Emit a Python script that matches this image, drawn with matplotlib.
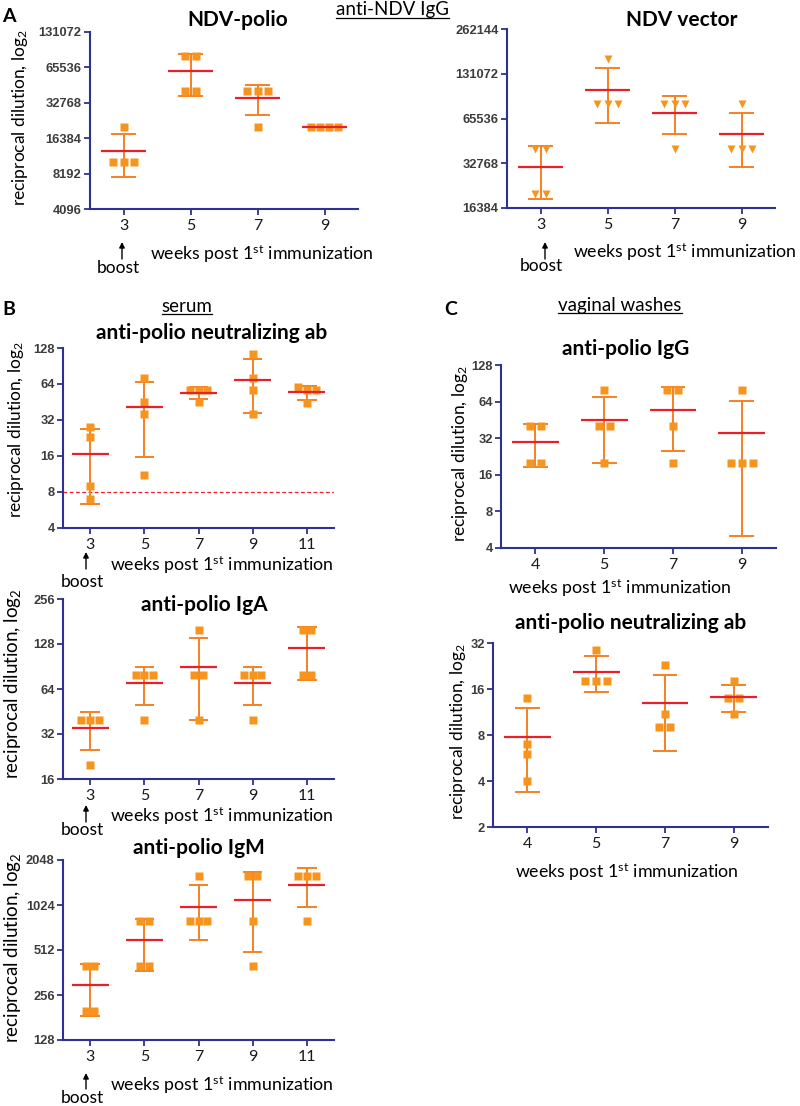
import numpy as np
import matplotlib
matplotlib.use("Agg")
import matplotlib.pyplot as plt
from matplotlib.lines import Line2D

plt.rcParams["font.family"] = ["Lato", "DejaVu Sans"]
plt.rcParams["mathtext.fontset"] = "custom"
plt.rcParams["mathtext.rm"] = "Lato"
plt.rcParams["mathtext.it"] = "Lato:italic"
plt.rcParams["mathtext.bf"] = "Lato:bold"

ORANGE = "#F7941D"
BAR = "#F58025"
RED = "#E8202A"
NAVY = "#2E3192"
TICKFONT = ["Liberation Sans Narrow", "Liberation Sans", "DejaVu Sans"]

# ---- data (reciprocal dilutions) ----
ndv_polio_weeks = [3, 5, 7, 9]
ndv_polio_pts = [[20480, 10240, 10240, 10240],
                 [81920, 81920, 40960, 40960],
                 [40960, 40960, 40960, 20480],
                 [20480, 20480, 20480, 20480]]

ndv_vector_weeks = [3, 5, 7, 9]
ndv_vector_pts = [[40960, 40960, 20480, 20480],
                  [163840, 81920, 81920, 81920],
                  [81920, 81920, 81920, 40960],
                  [81920, 40960, 40960, 40960]]

serum_neut_weeks = [3, 5, 7, 9, 11]
serum_neut_pts = [[28, 23, 9, 7],
                  [72, 45, 36, 11],
                  [57, 57, 57, 45],
                  [114, 72, 57, 36],
                  [60, 57, 57, 44]]
serum_neut_cutoff = 8

serum_iga_weeks = [3, 5, 7, 9, 11]
serum_iga_pts = [[40, 40, 40, 20],
                 [80, 80, 80, 40],
                 [160, 80, 80, 40],
                 [80, 80, 80, 40],
                 [160, 160, 80, 80]]

serum_igm_weeks = [3, 5, 7, 9, 11]
serum_igm_pts = [[400, 400, 200, 200],
                 [800, 800, 400, 400],
                 [1600, 800, 800, 800],
                 [1600, 1600, 800, 400],
                 [1600, 1600, 1600, 800]]

vag_igg_weeks = [4, 5, 7, 9]
vag_igg_pts = [[40, 40, 20, 20],
               [80, 40, 40, 20],
               [80, 80, 40, 20],
               [80, 20, 20, 20]]

vag_neut_weeks = [4, 5, 7, 9]
vag_neut_pts = [[14, 7, 6, 4],
                [29, 18, 18, 18],
                [23, 11, 9, 9],
                [18, 14, 14, 11]]

W, H = 800, 1106
fig = plt.figure(figsize=(W / 100, H / 100), dpi=100)


def fx(x):
    return x / W


def fy(y):
    return 1 - y / H


def make_ax(x0, y0, x1, y1):
    return fig.add_axes([fx(x0), fy(y1), (x1 - x0) / W, (y1 - y0) / H])


def jitter(i, vals):
    lv = np.log2(vals)
    xs = np.full(len(vals), float(i))
    used = np.zeros(len(vals), bool)
    for k in range(len(vals)):
        if used[k]:
            continue
        grp = [j for j in range(len(vals)) if not used[j] and abs(lv[j] - lv[k]) < 0.1]
        n = len(grp)
        step = 0.16 if n < 4 else 0.13
        for m, j in enumerate(grp):
            xs[j] = i + (m - (n - 1) / 2) * step
            used[j] = True
    return xs


def draw_panel(ax, weeks, pts, ylo, yhi, marker="s"):
    ax.set_yscale("log", base=2)
    for i, vals in enumerate(pts):
        vals = np.array(vals, float)
        m = vals.mean()
        s = vals.std(ddof=1)
        if s > 0:
            ax.vlines(i, m - s, m + s, color=BAR, lw=1.4, zorder=2)
            ax.hlines([m - s, m + s], i - 0.18, i + 0.18, color=BAR, lw=1.4, zorder=2)
        ax.plot(jitter(i, vals), vals, ls="none", marker=marker, ms=6,
                color=ORANGE, mec="none", zorder=3, clip_on=False)
        ax.hlines(m, i - 0.34, i + 0.34, color=RED, lw=1.6, zorder=4)
    ax.set_xlim(-0.5, len(weeks) - 0.5)
    ax.set_ylim(ylo, yhi)
    n = int(round(np.log2(yhi / ylo)))
    ticks = [ylo * 2 ** k for k in range(n + 1)]
    ax.set_yticks(ticks)
    ax.set_yticklabels([f"{t:.0f}" for t in ticks], family=TICKFONT,
                       fontweight="bold", fontsize=9.3, color="#3C3C3C")
    ax.yaxis.set_minor_locator(matplotlib.ticker.NullLocator())
    ax.set_xticks(range(len(weeks)))
    ax.set_xticklabels([str(w) for w in weeks], fontsize=11.5, color="#1A1A1A")
    for sp in ["top", "right"]:
        ax.spines[sp].set_visible(False)
    for sp in ["left", "bottom"]:
        ax.spines[sp].set_color(NAVY)
        ax.spines[sp].set_linewidth(1.5)
    ax.tick_params(axis="both", colors=NAVY, width=1.3, length=4)
    ax.tick_params(axis="y", pad=2)
    ax.tick_params(axis="x", pad=3.5)
    for lab in ax.get_xticklabels():
        lab.set_color("#1A1A1A")
    for lab in ax.get_yticklabels():
        lab.set_color("#3C3C3C")


XLABEL = "weeks post 1$^{\\mathrm{st}}$ immunization"
YLABEL = "reciprocal dilution, log$_2$"


def boost(x, ytxt, yhead, ytail):
    fig.text(fx(x), fy(ytxt), "boost", ha="center", va="center", fontsize=12.5)
    fig.add_artist(matplotlib.patches.FancyArrowPatch(
        (fx(x + 4), fy(ytail)), (fx(x + 4), fy(yhead)), transform=fig.transFigure,
        arrowstyle="-|>", mutation_scale=8, color="black", lw=1,
        shrinkA=0, shrinkB=0))


# ---- panel A ----
axA1 = make_ax(90, 32, 358, 209)
draw_panel(axA1, ndv_polio_weeks, ndv_polio_pts, 4096, 131072)
axA2 = make_ax(507, 29, 775, 208)
draw_panel(axA2, ndv_vector_weeks, ndv_vector_pts, 16384, 262144, marker="v")

# ---- panel B ----
axB1 = make_ax(63, 348, 334, 528)
draw_panel(axB1, serum_neut_weeks, serum_neut_pts, 4, 128)
axB1.axhline(serum_neut_cutoff, color="#E8202A", lw=0.9, ls=(0, (3, 2)), zorder=1)
axB2 = make_ax(63, 599, 334, 779)
draw_panel(axB2, serum_iga_weeks, serum_iga_pts, 16, 256)
axB3 = make_ax(63, 860, 334, 1040)
draw_panel(axB3, serum_igm_weeks, serum_igm_pts, 128, 2048)

# ---- panel C ----
axC1 = make_ax(501, 365, 776, 548)
draw_panel(axC1, vag_igg_weeks, vag_igg_pts, 4, 128)
axC2 = make_ax(493, 643, 768, 827)
draw_panel(axC2, vag_neut_weeks, vag_neut_pts, 2, 32)

# titles
for (x, y, t) in [(238, 20, "NDV-polio"), (682, 20, "NDV vector"),
                  (212, 333, "anti-polio neutralizing ab"), (204, 605, "anti-polio IgA"),
                  (199, 848, "anti-polio IgM"), (626, 349, "anti-polio IgG"),
                  (631, 623, "anti-polio neutralizing ab")]:
    fig.text(fx(x), fy(y), t, ha="center", va="center", fontsize=15, fontweight="bold")

# x labels
for (x, y) in [(262, 254), (685, 252), (222, 565), (222, 816), (222, 1085),
               (620, 588), (627, 872)]:
    fig.text(fx(x), fy(y), XLABEL, ha="center", va="center", fontsize=12.8)

# y labels
for (x, y, s) in [(20, 118, 12.5), (16, 430, 12.5), (13, 684, 13.5), (13, 948, 13.5),
                  (460, 454, 12.5), (458, 732, 12.5)]:
    fig.text(fx(x), fy(y), YLABEL, ha="center", va="center", fontsize=s, rotation=90)

# boost arrows
boost(118, 268, 242, 259)
boost(541, 266, 242, 259)
boost(82, 582, 552, 569)
boost(82, 830, 805, 822)
boost(82, 1098, 1073, 1089)

# panel letters
for (x, y, t) in [(9, 16, "A"), (9, 309, "B"), (451, 309, "C")]:
    fig.text(fx(x), fy(y), t, ha="center", va="center", fontsize=14, fontweight="bold")

# underlined section headers
headers = []
for (x, y, t) in [(392, 10, "anti-NDV IgG"), (187, 306, "serum"), (620, 305, "vaginal washes")]:
    headers.append(fig.text(fx(x), fy(y), t, ha="center", va="center", fontsize=13.5))

fig.canvas.draw()
r = fig.canvas.get_renderer()
for t in headers:
    bb = t.get_window_extent(r).transformed(fig.transFigure.inverted())
    yl = bb.y0 + 0.6 / H
    fig.add_artist(Line2D([bb.x0, bb.x1], [yl, yl], transform=fig.transFigure,
                          color="black", lw=0.9))

fig.savefig("out.png", dpi=100)
